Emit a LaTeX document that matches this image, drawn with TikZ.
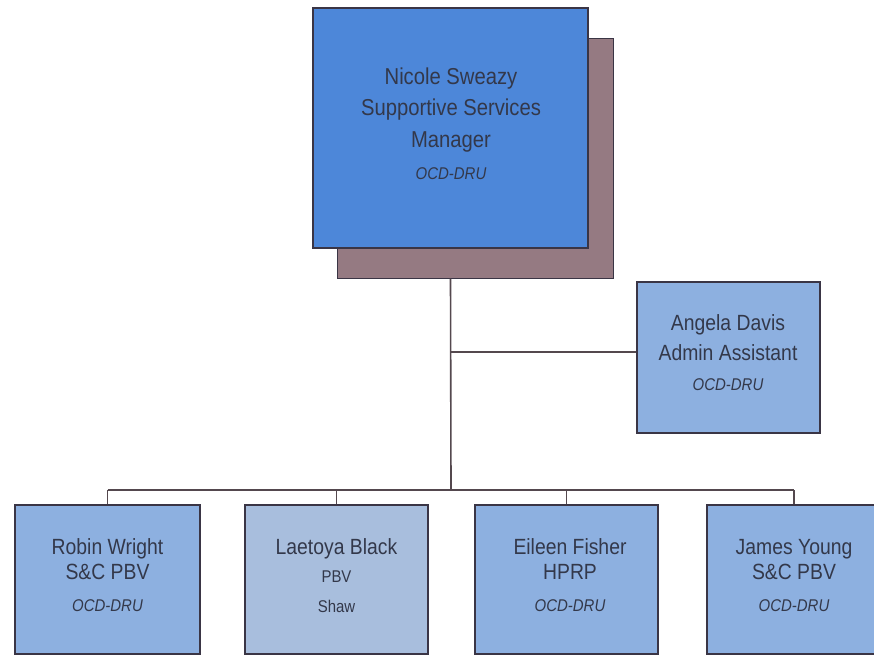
\documentclass[tikz,border=0pt]{standalone}
\usepackage{fontspec}
\setmainfont[FakeStretch=0.88]{Liberation Sans}
\definecolor{topfill}{HTML}{4D87D9}
\definecolor{shadowfill}{HTML}{957A82}
\definecolor{subfill}{HTML}{8DB0E0}
\definecolor{palefill}{HTML}{A8BEDD}
\definecolor{boxline}{HTML}{3A3545}
\definecolor{connc}{HTML}{54484E}
\definecolor{textc}{HTML}{33384A}
\begin{document}
\begin{tikzpicture}[x=1pt,y=-1pt,
  box/.style={draw=boxline,line width=1.8pt,inner sep=0pt,minimum height=151pt},
  conn/.style={draw=connc,line width=1.6pt},
  txt/.style={anchor=mid,text=textc,inner sep=0pt,font=\fontsize{22}{22}\selectfont},
  bigtxt/.style={txt,font=\fontsize{23}{23}\selectfont},
  smalltxt/.style={txt,font=\fontsize{17}{17}\selectfont\itshape},
  tinytxt/.style={txt,font=\fontsize{17}{17}\selectfont}]
\useasboundingbox (0,0) rectangle (874,657);
% top manager box with shadow
\node[box,fill=shadowfill,line width=1pt,minimum width=276pt,minimum height=240pt] (shadow) at (475,158) {};
\node[box,fill=topfill,minimum width=275pt,minimum height=240pt] (nicole) at (450.5,128) {};
\node[bigtxt] (n1) at (451,82) {Nicole Sweazy};
\node[bigtxt] (n2) at (451,113) {Supportive Services};
\node[bigtxt] (n3) at (451,145) {Manager};
\node[smalltxt] (n4) at (451,177) {OCD-DRU};
% assistant
\node[box,fill=subfill,minimum width=183pt,minimum height=151pt] (angela) at (728.5,357.5) {};
\node[txt] (a1) at (728,328) {Angela Davis};
\node[txt] (a2) at (728,358) {Admin Assistant};
\node[smalltxt] (a3) at (728,388) {OCD-DRU};
% bottom row
\node[box,fill=subfill,minimum width=185pt,minimum height=149pt] (robin) at (107.5,579.5) {};
\node[box,fill=palefill,minimum width=183pt,minimum height=149pt] (laetoya) at (336.5,579.5) {};
\node[box,fill=subfill,minimum width=183pt,minimum height=149pt] (eileen) at (566.5,579.5) {};
\node[box,fill=subfill,minimum width=174pt,minimum height=149pt] (james) at (794,579.5) {};
\node[txt] (r1) at (107.5,552) {Robin Wright};
\node[txt] (r2) at (107.5,577) {S\&C PBV};
\node[smalltxt] (r3) at (107.5,609) {OCD-DRU};
\node[txt] (l1) at (336.5,552) {Laetoya Black};
\node[tinytxt] (l2) at (336.5,580) {PBV};
\node[tinytxt] (l3) at (336.5,610) {Shaw};
\node[txt] (e1) at (570,552) {Eileen Fisher};
\node[txt] (e2) at (570,577) {HPRP};
\node[smalltxt] (e3) at (570,609) {OCD-DRU};
\node[txt] (y1) at (794,552) {James Young};
\node[txt] (y2) at (794,577) {S\&C PBV};
\node[smalltxt] (y3) at (794,609) {OCD-DRU};
% connectors
\coordinate (bus) at (451,490);
\coordinate (aj) at (451,352);
\draw[conn] (nicole.south |- shadow.south) -- (bus);
\draw[conn] (aj) -- (aj -| angela.west);
\draw[conn] (robin.north |- bus) -- (james.north |- bus);
\draw[conn] (robin.north |- bus) -- (robin.north);
\draw[conn] (laetoya.north |- bus) -- (laetoya.north);
\draw[conn] (eileen.north |- bus) -- (eileen.north);
\draw[conn] (james.north |- bus) -- (james.north);
\end{tikzpicture}
\end{document}
